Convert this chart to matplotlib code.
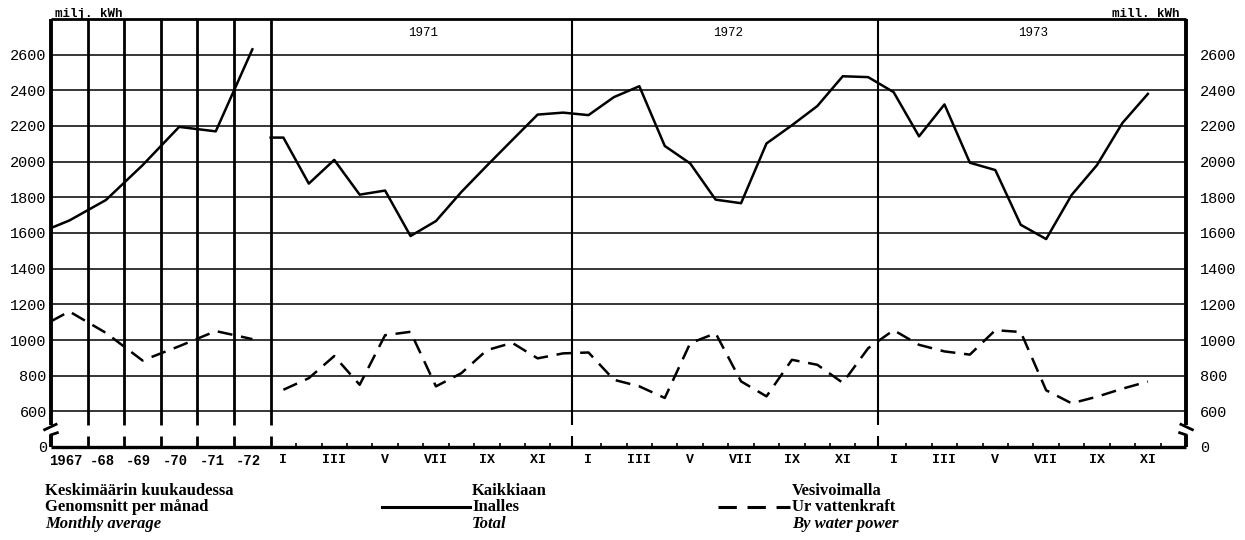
import numpy as np
import matplotlib.pyplot as plt
from matplotlib.lines import Line2D

# annual monthly averages 1967-72
years_avg = ['1967', '-68', '-69', '-70', '-71', '-72']
total_avg = [1670, 1785, 1980, 2195, 2170, 2630]
water_avg = [1160, 1040, 885, 965, 1050, 1005]
total_avg_start = 1628   # level where the curves leave the left frame
water_avg_start = 1105

# monthly values 1971-73
month_years = ['1971', '1972', '1973']
month_labels = ['I', '', 'III', '', 'V', '', 'VII', '', 'IX', '', 'XI', '']
total_1971 = [2135, 1877, 2010, 1815, 1838, 1583, 1667, 1830, 1977, 2121, 2264, 2275]
total_1972 = [2261, 2362, 2423, 2088, 1990, 1787, 1767, 2102, 2204, 2312, 2479, 2474]
total_1973 = [2390, 2142, 2321, 1994, 1953, 1646, 1566, 1813, 1981, 2217, 2380]
water_1971 = [721, 786, 910, 749, 1027, 1046, 740, 814, 943, 984, 897, 925]
water_1972 = [930, 777, 740, 675, 982, 1038, 768, 684, 889, 861, 760, 954]
water_1973 = [1055, 973, 936, 918, 1055, 1045, 718, 645, 682, 727, 767]

ytick_vals = [600, 800, 1000, 1200, 1400, 1600, 1800, 2000, 2200, 2400, 2600]

W, H = 1245, 540
fig = plt.figure(figsize=(W / 100, H / 100), dpi=100)
ax = fig.add_axes([51 / W, 1 - 447 / H, 1135 / W, 428 / H])

A = 1.44            # width of one year column in the average section (months)
m0 = 6 * A          # where the monthly section starts
xmax = m0 + 36
y0 = 400            # the broken axis: "0" sits here
ax.set_xlim(0, xmax)
ax.set_ylim(y0, 2800)
for s in ax.spines.values():
    s.set_visible(False)

# horizontal grid
ax.hlines(ytick_vals, 0, xmax, color='k', lw=1.1, zorder=1)
ax.hlines([2800], 0, xmax, color='k', lw=2.0, clip_on=False)
ax.hlines([y0], 0, xmax, color='k', lw=2.4, clip_on=False)

# vertical dividers, broken above the zero line
brk = 522
ydiv = [A * i for i in range(1, 7)]
ax.vlines(ydiv, brk, 2800, color='k', lw=2.0)
ax.vlines(ydiv, y0, 460, color='k', lw=2.0)
mdiv = [m0 + 11.85, m0 + 23.9]
ax.vlines(mdiv, brk, 2800, color='k', lw=1.5)
ax.vlines(mdiv, y0, 460, color='k', lw=1.5)
mt = [m0 + k for k in range(1, 36) if k % 12]
ax.vlines(mt, y0, 425, color='k', lw=1.2)

# side frames with break marks
for xe, d in [(0, 1), (xmax, -1)]:
    ax.plot([xe, xe], [brk, 2800], color='k', lw=2.8, clip_on=False, solid_capstyle='butt')
    ax.plot([xe, xe], [y0, 468], color='k', lw=2.8, clip_on=False, solid_capstyle='butt')
    ax.plot([xe - 0.25 * d, xe + 0.2 * d], [brk - 25, brk + 5], color='k', lw=2.0, clip_on=False)
    ax.plot([xe, xe + 0.25 * d], [468, 480], color='k', lw=2.0, clip_on=False)

# curves
dash = (0, (6, 3.5))
xa = [0] + [(i + 0.5) * A for i in range(len(years_avg))]
ax.plot(xa, [total_avg_start] + total_avg, color='k', lw=1.8, zorder=3)
ax.plot(xa, [water_avg_start] + water_avg, color='k', lw=1.8, ls=dash, zorder=3)

tot_m = total_1971 + total_1972 + total_1973
wat_m = water_1971 + water_1972 + water_1973
xm = [m0] + [m0 + k + 0.5 for k in range(len(tot_m))]
ax.plot(xm, [tot_m[0]] + tot_m, color='k', lw=1.8, zorder=3)
ax.plot(xm[1:], wat_m, color='k', lw=1.8, ls=dash, zorder=3)

# y tick labels on both sides
mono = 'Liberation Mono'
ax.set_yticks([y0] + ytick_vals)
ax.set_yticklabels(['0'] + [str(v) for v in ytick_vals], family=mono, fontsize=11)
ax.yaxis.set_ticks_position('both')
ax.tick_params(axis='y', length=0, pad=3, labelleft=True, labelright=True)
ax.set_xticks([])
for tick in ax.yaxis.get_major_ticks():
    tick.label2.set_x(1.0 + 10 / 1135)

# x labels
for i, lab in enumerate(years_avg):
    ax.text((i + 0.5) * A - 0.15, y0 - 40, lab, ha='center', va='top', family=mono,
            fontsize=10, fontweight='bold')
for y in range(3):
    for k, lab in enumerate(month_labels):
        if lab:
            ax.text(m0 + 12 * y + k + 0.5, y0 - 40, lab, ha='center', va='top', family=mono,
                    fontsize=9.5, fontweight='bold')
    ax.text(m0 + 12 * y + 6, 2755, month_years[y], ha='center', va='top', family=mono,
            fontsize=9)

fig.text(55 / W, 1 - 17 / H, 'milj. kWh', family=mono, fontsize=9, fontweight='bold',
         ha='left', va='baseline')
fig.text(1180 / W, 1 - 17 / H, 'mill. kWh', family=mono, fontsize=9, fontweight='bold',
         ha='right', va='baseline')

# legend block
serif = 'Liberation Serif'
cols = [
    (45, ['Keskimäärin kuukaudessa', 'Genomsnitt per månad', 'Monthly average'], None),
    (472, ['Kaikkiaan', 'Inalles', 'Total'], '-'),
    (792, ['Vesivoimalla', 'Ur vattenkraft', 'By water power'], dash),
]
rows = [491, 507, 524]
for x, texts, style in cols:
    for r, (yy, t) in enumerate(zip(rows, texts)):
        fig.text(x / W, 1 - yy / H, t, family=serif, fontsize=12,
                 fontweight='bold', style='italic' if r == 2 else 'normal',
                 ha='left', va='center')
    if style is not None:
        span = 90 if style == '-' else 74
        fig.add_artist(Line2D([(x - span) / W, (x - 2) / W], [1 - rows[1] / H] * 2,
                              color='k', lw=2.2, ls=style, transform=fig.transFigure))

fig.savefig('out.png', dpi=100)
